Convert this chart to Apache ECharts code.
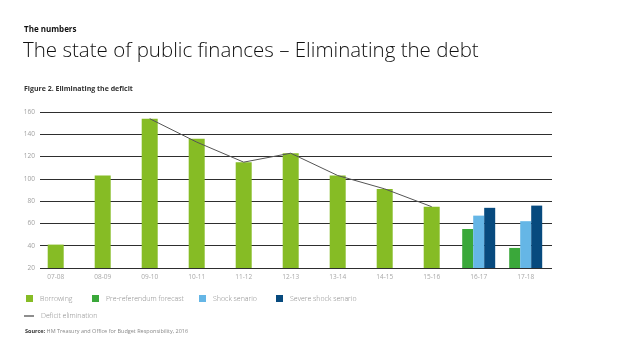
<!DOCTYPE html>
<html><head><meta charset="utf-8">
<script src="https://cdn.jsdelivr.net/npm/echarts@6/dist/echarts.min.js"></script>
<style>html,body{margin:0;padding:0;background:#fff}#c{width:638px;height:359px}</style>
</head><body><div id="c"></div>
<script>
var categories = ['07-08','08-09','09-10','10-11','11-12','12-13','13-14','14-15','15-16','16-17','17-18'];
var borrowing = [41, 103, 154, 136, 115, 123, 103, 91, 75, null, null];
var preReferendum = [null, null, null, null, null, null, null, null, null, 55, 38];
var shockScenario = [null, null, null, null, null, null, null, null, null, 67, 62];
var severeShock = [null, null, null, null, null, null, null, null, null, 74, 76];
var deficitElimination = [null, null, 154, 133, 115, 123, 103, 91, 75, null, null];
var yTicks = [20, 40, 60, 80, 100, 120, 140, 160];

var FONT = '"Open Sans", "Noto Sans", sans-serif';
var chart = echarts.init(document.getElementById('c'), null, {renderer: 'canvas'});

function legendAt(name, left, top, isLine) {
  return {
    data: [name], left: left, top: top, padding: 0,
    itemWidth: isLine ? 10 : 7, itemHeight: isLine ? 1.2 : 7,
    icon: 'rect',
    textStyle: {fontFamily: FONT, fontSize: 7, color: '#8a8a8a', fontWeight: 300, padding: [0, 0, 0, 2]},
    selectedMode: false
  };
}

var option = {
  animation: false,
  backgroundColor: '#fff',
  graphic: [
    {type: 'text', left: 24, top: 25.5, style: {text: 'The numbers', font: 'bold 8px ' + FONT, fill: '#111'}},
    {type: 'text', left: 23, top: 41, style: {text: 'The state of public finances \u2013 Eliminating the debt', font: '300 20.5px ' + FONT, fill: '#111'}},
    {type: 'text', left: 24, top: 85.5, style: {text: 'Figure 2. Eliminating the deficit', font: 'bold 7px ' + FONT, fill: '#333'}},
    {type: 'text', left: 25, top: 328, style: {
      text: '{b|Source:} HM Treasury and Office for Budget Responsibility, 2016',
      font: '5.5px ' + FONT, fill: '#888',
      rich: {b: {fontWeight: 'bold', fontSize: 5.5, fontFamily: FONT, fill: '#333'}}
    }}
  ],
  legend: [
    legendAt('Borrowing', 26, 295),
    legendAt('Pre-referendum forecast', 92, 295),
    legendAt('Shock senario', 199, 295),
    legendAt('Severe shock senario', 276, 295),
    legendAt('Deficit elimination', 24, 312.5, true)
  ],
  grid: [
    {left: 40, right: 86, top: 112, height: 156},
    {left: 32.2, width: 517, top: 112, height: 156}
  ],
  xAxis: [
    {gridIndex: 0, type: 'category', data: categories, show: false},
    {gridIndex: 1, type: 'category', data: categories,
     axisLine: {show: false}, axisTick: {show: false},
     axisLabel: {margin: 6, fontFamily: FONT, fontSize: 6.5, color: '#a8a8a8'}},
    {gridIndex: 1, type: 'category', data: categories, show: false}
  ],
  yAxis: [
    {gridIndex: 0, type: 'value', min: 20, max: 160, interval: 20,
     axisLine: {show: false}, axisTick: {show: false},
     axisLabel: {margin: 5, fontFamily: FONT, fontSize: 6.5, color: '#a0a0a0',
       formatter: function (v) { return yTicks.indexOf(v) >= 0 ? String(v) : ''; }},
     splitLine: {lineStyle: {color: '#2e2e2e', width: 1}}},
    {gridIndex: 1, type: 'value', min: 20, max: 160, interval: 20, show: false, splitLine: {show: false}}
  ],
  series: [
    {name: 'Borrowing', type: 'bar', xAxisIndex: 1, yAxisIndex: 1, data: borrowing,
     barWidth: 16, itemStyle: {color: '#86bc25'}},
    {name: 'Pre-referendum forecast', type: 'bar', xAxisIndex: 2, yAxisIndex: 1, data: preReferendum,
     barWidth: 11, barGap: '0%', itemStyle: {color: '#3aa83a'}},
    {name: 'Shock senario', type: 'bar', xAxisIndex: 2, yAxisIndex: 1, data: shockScenario,
     barWidth: 11, barGap: '0%', itemStyle: {color: '#65b6e6'}},
    {name: 'Severe shock senario', type: 'bar', xAxisIndex: 2, yAxisIndex: 1, data: severeShock,
     barWidth: 11, barGap: '0%', itemStyle: {color: '#074a7e'}},
    {name: 'Deficit elimination', type: 'line', xAxisIndex: 1, yAxisIndex: 1, data: deficitElimination,
     symbol: 'none', showSymbol: false, z: 5,
     lineStyle: {color: '#555', width: 1}, itemStyle: {color: '#444'}}
  ]
};
chart.setOption(option);
</script>
</body></html>
